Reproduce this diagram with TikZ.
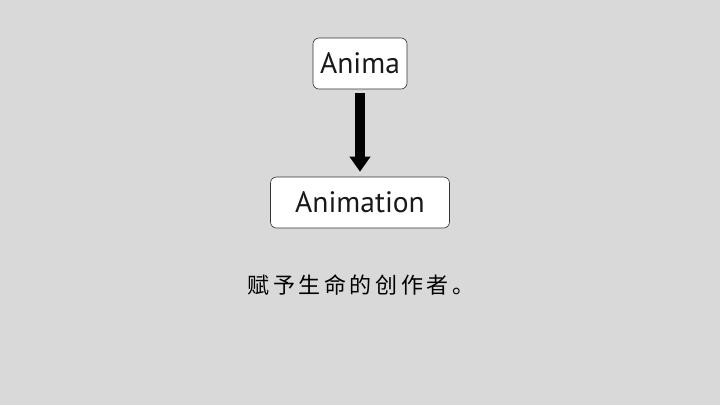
\documentclass[tikz,border=0pt]{standalone}
\usepackage{fontspec}
\setmainfont{PT Sans}
\newfontfamily\cjk[LetterSpace=16]{Noto Sans CJK SC}
\usetikzlibrary{arrows.meta,positioning,calc}
\definecolor{slidebg}{HTML}{D9D9D9}
\tikzstyle{wordbox}=[draw=black!80,fill=white,rounded corners=6pt,line width=0.6pt,minimum height=51pt,inner sep=0pt,text=black!90,font=\fontsize{29.5}{33}\selectfont]

\begin{document}
\begin{tikzpicture}[x=1pt,y=1pt]
    \fill [slidebg] (0,0) rectangle (720,-405);
    \useasboundingbox (0,0) rectangle (720,-405);
    \node [wordbox,minimum width=94pt] (anima) at (360,-63.5) {Anima};
    \node [wordbox,minimum width=179pt] (animation) at (360,-202.5) {Animation};
    \draw [line width=10pt,-{Triangle[width=20pt,length=15pt]},shorten <=4pt,shorten >=5pt]
      (anima.south) -- (animation.north);
    \node (motto) at (361,-285) {\cjk\fontsize{22}{26}\selectfont 赋予生命的创作者。};
\end{tikzpicture}
\end{document}
